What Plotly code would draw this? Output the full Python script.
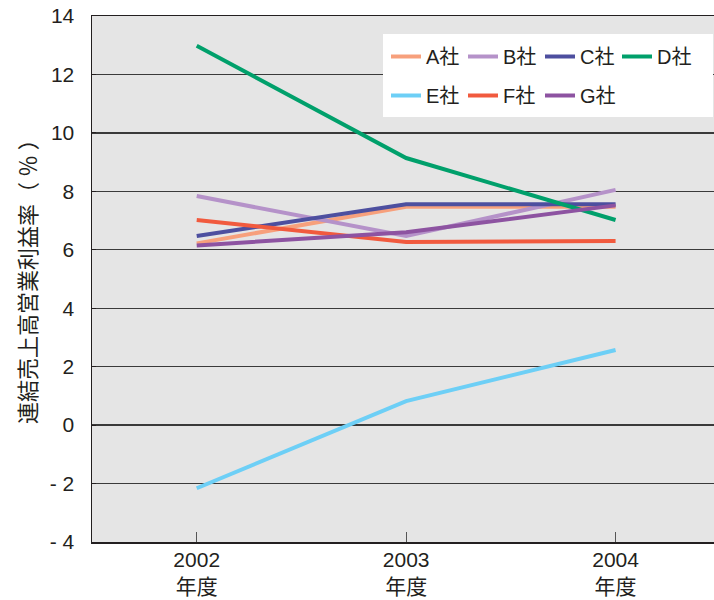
import plotly.graph_objects as go

years = ["2002<br>年度", "2003<br>年度", "2004<br>年度"]
companies = ["A社", "B社", "C社", "D社", "E社", "F社", "G社"]
a_vals = [6.22, 7.47, 7.47]
b_vals = [7.84, 6.47, 8.05]
c_vals = [6.47, 7.56, 7.56]
d_vals = [12.98, 9.14, 7.02]
e_vals = [-2.16, 0.82, 2.57]
f_vals = [7.02, 6.27, 6.3]
g_vals = [6.15, 6.6, 7.52]
series = [a_vals, b_vals, c_vals, d_vals, e_vals, f_vals, g_vals]
colors = ["#f7a07c", "#b592c9", "#4d4f9f", "#00a06b", "#6dcff6", "#f15a3e", "#8d53a1"]
y_ticks = [-4, -2, 0, 2, 4, 6, 8, 10, 12, 14]
y_ticktext = ["- 4", "- 2", "0", "2", "4", "6", "8", "10", "12", "14"]

FONT = "Liberation Sans, Arial, Noto Sans CJK JP, sans-serif"
CJK = "Noto Sans CJK JP, sans-serif"

W, H = 714, 600
ml, mr, mt, mb = 92, 0, 16, 58
pw, ph = W - ml - mr, H - mt - mb
XR = [-0.5, 2.47]
YR = [-4, 14]

def px_x(x):
    return (x - ml) / pw

def px_y(y):
    return (H - mb - y) / ph

def dx(x):
    return XR[0] + px_x(x) * (XR[1] - XR[0])

def dy(y):
    return YR[0] + px_y(y) * (YR[1] - YR[0])

fig = go.Figure()
for i, (name, vals, col) in enumerate(zip(companies, series, colors)):
    fig.add_trace(go.Scatter(
        x=[0, 1, 2], y=vals, mode="lines", name=name,
        line=dict(color=col, width=4),
        legend="legend" if i < 4 else "legend2",
        hoverinfo="skip",
    ))

legend_common = dict(
    orientation="h", xanchor="left", yanchor="top",
    bgcolor="rgba(0,0,0,0)", borderwidth=0,
    font=dict(family=FONT, size=20, color="#231f20"),
    entrywidth=32, entrywidthmode="pixels",
    itemclick=False, itemdoubleclick=False,
    tracegroupgap=0,
)

fig.update_layout(
    width=W, height=H,
    margin=dict(l=ml, r=mr, t=mt, b=mb, pad=0, autoexpand=False),
    paper_bgcolor="white",
    plot_bgcolor="#e5e5e5",
    font=dict(family=FONT, size=20, color="#231f20"),
    showlegend=True,
    legend=dict(x=px_x(386), y=px_y(37), **legend_common),
    legend2=dict(x=px_x(386), y=px_y(76), **legend_common),
    xaxis=dict(
        tickmode="array", tickvals=[0, 1, 2], ticktext=years,
        range=XR, automargin=False,
        showgrid=False, zeroline=False,
        showline=True, linecolor="#231f20", linewidth=1.5, mirror=True,
        ticks="inside", ticklen=10, tickwidth=1, tickcolor="#555555",
        tickfont=dict(family=FONT, size=21, color="#231f20"),
        ticklabelstandoff=-2,
        fixedrange=True,
    ),
    yaxis=dict(
        tickmode="array", tickvals=y_ticks, ticktext=y_ticktext,
        range=YR, automargin=False,
        showgrid=True, gridcolor="#3a3a3a", gridwidth=1.3,
        zeroline=False,
        showline=True, linecolor="#231f20", linewidth=1.5,
        ticks="inside", ticklen=4, tickcolor="#231f20",
        tickfont=dict(family=FONT, size=21, color="#231f20"),
        ticklabelstandoff=12,
        fixedrange=True,
    ),
    shapes=[dict(
        type="rect", xref="x", yref="y",
        x0=dx(383), x1=dx(713), y0=dy(117), y1=dy(34),
        fillcolor="white", line=dict(width=0), layer="between",
    )],
    annotations=[dict(
        text="連結売上高営業利益率（ ％ ）",
        xref="paper", yref="paper",
        x=px_x(26), y=px_y(276),
        xanchor="center", yanchor="middle",
        textangle=-90, showarrow=False,
        font=dict(family=CJK, size=22, color="#231f20"),
    )],
)

fig.write_html(
    "out.html",
    config={"displayModeBar": False, "staticPlot": True},
    post_script="document.body.style.margin='0';document.body.style.overflow='hidden';",
)
